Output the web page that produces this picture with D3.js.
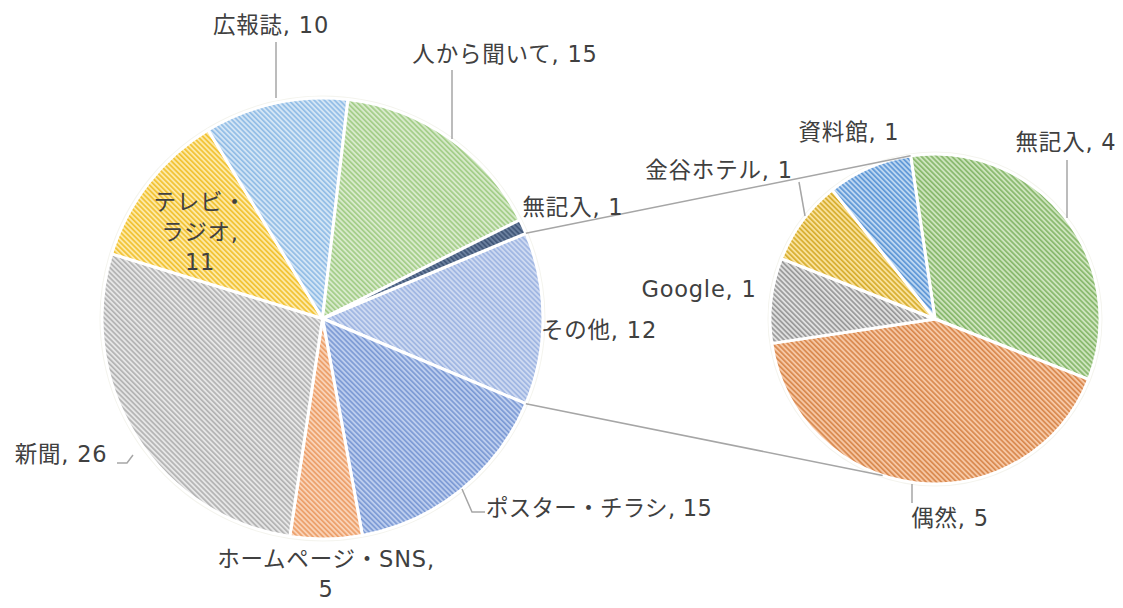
<!DOCTYPE html>
<html><head><meta charset="utf-8">
<script src="https://cdn.jsdelivr.net/npm/d3@7"></script>
<style>
html,body{margin:0;padding:0;background:#fff;}
svg text{font-family:"DejaVu Sans","Noto Sans CJK JP",sans-serif;fill:#404040;}
</style></head>
<body>
<svg id="chart" width="1123" height="608"></svg>
<script>
// ---- data ----
const mainLabels = ["その他","ポスター・チラシ","ホームページ・SNS","新聞","テレビ・ラジオ","広報誌","人から聞いて","無記入"];
const mainValues = [12,15,5,26,11,10,15,1];
const subLabels = ["無記入","偶然","Google","金谷ホテル","資料館"];
const subValues = [4,5,1,1,1];

// ---- styles ----
const mainColors = [
  ["#cdd9f1","#9fb6e2"], // その他
  ["#bccdee","#7d9bd5"], // ポスター
  ["#f9d2b6","#ec9f69"], // HP
  ["#e6e6e6","#b3b3b3"], // 新聞
  ["#fde9a6","#f1c232"], // テレビ
  ["#d3e5f5","#92bde6"], // 広報誌
  ["#d8eacb","#a3cd88"], // 人から
  ["#6a7f9e","#3f5677"]  // 無記入
];
const subColors = [
  ["#cde4bd","#88b86c"], // 無記入
  ["#f6c7a4","#d9894f"], // 偶然
  ["#e0e0e0","#999999"], // Google
  ["#f9e19a","#d7ae2f"], // 金谷
  ["#bcd6f1","#5f98d6"]  // 資料館
];

const svg = d3.select("#chart");
const defs = svg.append("defs");
function makePattern(id, c){
  const p = defs.append("pattern").attr("id", id).attr("patternUnits","userSpaceOnUse")
    .attr("width",3.6).attr("height",3.6).attr("patternTransform","rotate(-45)");
  p.append("rect").attr("width",3.6).attr("height",3.6).attr("fill",c[0]);
  p.append("rect").attr("width",1.7).attr("height",3.6).attr("fill",c[1]);
}
mainColors.forEach((c,i)=>makePattern("pm"+i,c));
subColors.forEach((c,i)=>makePattern("ps"+i,c));

// ---- main pie ----
const mainTotal = d3.sum(mainValues);
const otherShare = mainValues[0]/mainTotal*2*Math.PI;
const mStart = Math.PI/2 - otherShare/2;
const mainPie = d3.pie().sort(null).startAngle(mStart).endAngle(mStart+2*Math.PI);
const mcx = 322.5, mcy = 318.5, mr = 220.5;
const mainArcs = mainPie(mainValues);
const mainArc = d3.arc().innerRadius(0).outerRadius(mr);
const gm = svg.append("g").attr("transform",`translate(${mcx},${mcy})`);
gm.append("circle").attr("r",mr+1.5).attr("fill","none").attr("stroke","#f4f4ee").attr("stroke-width",2);
gm.selectAll("path").data(mainArcs).join("path")
  .attr("d",mainArc).attr("fill",(d,i)=>`url(#pm${i})`)
  .attr("stroke","#fff").attr("stroke-width",3).attr("stroke-linejoin","round");

// ---- secondary pie ----
const sStart = -8.5*Math.PI/180;
const subPie = d3.pie().sort(null).startAngle(sStart).endAngle(sStart+2*Math.PI);
const scx = 935, scy = 319, sr = 165;
const subArcs = subPie(subValues);
const subArc = d3.arc().innerRadius(0).outerRadius(sr);
const gs = svg.append("g").attr("transform",`translate(${scx},${scy})`);
gs.append("circle").attr("r",sr+1.5).attr("fill","none").attr("stroke","#f4f4ee").attr("stroke-width",2);
gs.selectAll("path").data(subArcs).join("path")
  .attr("d",subArc).attr("fill",(d,i)=>`url(#ps${i})`)
  .attr("stroke","#fff").attr("stroke-width",3).attr("stroke-linejoin","round");

// ---- connector lines ----
const polar = (cx,cy,r,a)=>[cx+r*Math.sin(a), cy-r*Math.cos(a)];
const oth = mainArcs[0];
const conn = [
  [polar(mcx,mcy,mr,oth.startAngle), polar(scx,scy,sr,sStart)],
  [polar(mcx,mcy,mr,oth.endAngle), polar(scx,scy,sr,198.5*Math.PI/180)]
];
svg.selectAll("line.conn").data(conn).join("line").attr("class","conn")
  .attr("x1",d=>d[0][0]).attr("y1",d=>d[0][1]).attr("x2",d=>d[1][0]).attr("y2",d=>d[1][1])
  .attr("stroke","#a6a6a6").attr("stroke-width",1.5);

// ---- labels (layout) ----
const fs = 22.5;
const mainLayout = {
  "その他":{x:599,y:338},
  "ポスター・チラシ":{x:599,y:516,ls:0.3,leader:[[462,489],[472,512],[485,512]]},
  "ホームページ・SNS":{x:326,y:567,lines:["ホームページ・SNS,","5"]},
  "新聞":{x:61,y:462,leader:[[117,463],[127,463],[133,455]]},
  "テレビ・ラジオ":{x:200,y:210,lines:["テレビ・","ラジオ,","11"]},
  "広報誌":{x:271,y:33,leader:[[276,42],[276,98]]},
  "人から聞いて":{x:505,y:62,leader:[[452,70],[452,139]]},
  "無記入":{x:573,y:215}
};
const subLayout = {
  "無記入":{x:1066,y:150,leader:[[1067,160],[1067,218]]},
  "偶然":{x:950,y:526,leader:[[912,484],[912,503]]},
  "Google":{x:699,y:297},
  "金谷ホテル":{x:719,y:178,leader:[[799,182],[805,216]]},
  "資料館":{x:849,y:140}
};
function drawLabels(labels, values, layout){
  labels.forEach((lab,i)=>{
    const L = layout[lab];
    const lines = L.lines || [`${lab}, ${values[i]}`];
    const t = svg.append("text").attr("text-anchor","middle").attr("font-size",fs)
      .attr("letter-spacing",L.ls!=null?L.ls:0.8);
    lines.forEach((s,k)=>t.append("tspan").attr("x",L.x).attr("y",L.y+k*30).text(s));
    if(L.leader){
      svg.append("path").attr("d",d3.line()(L.leader)).attr("fill","none")
        .attr("stroke","#a6a6a6").attr("stroke-width",1.5);
    }
  });
}
drawLabels(mainLabels, mainValues, mainLayout);
drawLabels(subLabels, subValues, subLayout);
</script>
</body></html>
